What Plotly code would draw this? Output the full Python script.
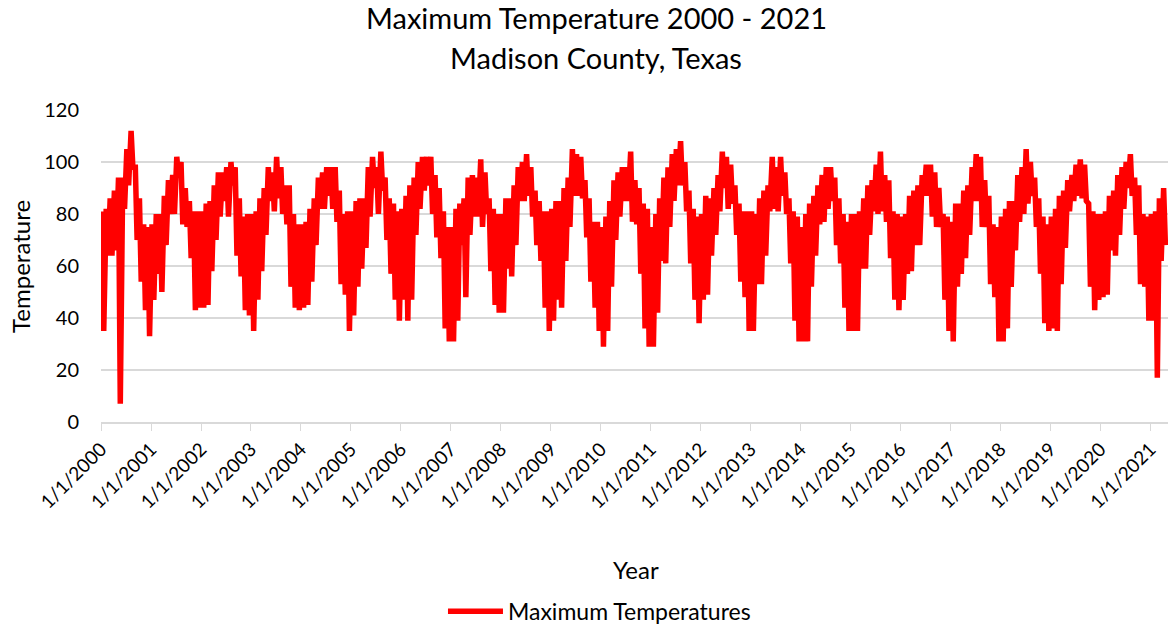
import plotly.graph_objects as go

# Monthly highest / lowest daily maximum temperature (Jan 2000 .. Apr 2021)
monthly_high = [
    # 2000
    81, 82, 86, 89, 94, 94, 105, 112, 98, 86, 76, 75,
    # 2001
    76, 80, 80, 87, 93, 95, 102, 100, 90, 85, 81, 81,
    # 2002
    81, 84, 85, 91, 96, 96, 98, 100, 98, 86, 79, 80,
    # 2003
    80, 81, 86, 90, 98, 96, 102, 98, 91, 91, 80, 76,
    # 2004
    76, 77, 82, 86, 94, 96, 98, 98, 98, 89, 80, 81,
    # 2005
    81, 85, 86, 86, 98, 102, 98, 104, 94, 86, 84, 81,
    # 2006
    82, 87, 91, 94, 100, 102, 102, 102, 95, 90, 81, 75,
    # 2007
    75, 82, 84, 86, 94, 95, 94, 101, 96, 86, 82, 80,
    # 2008
    80, 86, 86, 91, 98, 100, 103, 98, 89, 85, 81, 81,
    # 2009
    82, 85, 85, 90, 94, 105, 103, 102, 93, 86, 77, 77,
    # 2010
    75, 79, 85, 93, 96, 98, 98, 104, 93, 90, 84, 82,
    # 2011
    75, 80, 86, 94, 98, 103, 105, 108, 100, 89, 82, 79,
    # 2012
    80, 87, 86, 90, 95, 104, 102, 99, 91, 84, 81, 81,
    # 2013
    81, 80, 86, 89, 91, 102, 98, 102, 96, 86, 81, 79,
    # 2014
    75, 80, 84, 87, 91, 95, 98, 98, 94, 86, 80, 77,
    # 2015
    80, 80, 81, 86, 91, 93, 99, 104, 95, 93, 81, 80,
    # 2016
    79, 80, 87, 89, 91, 95, 99, 99, 96, 90, 80, 79,
    # 2017
    77, 84, 84, 89, 91, 98, 103, 102, 93, 87, 76, 75,
    # 2018
    79, 82, 85, 85, 95, 98, 105, 100, 94, 86, 79, 76,
    # 2019
    79, 82, 87, 89, 93, 95, 99, 101, 99, 84, 81, 80,
    # 2020
    80, 81, 87, 89, 95, 98, 100, 103, 94, 91, 80, 79,
    # 2021
    80, 81, 86, 90,
]
monthly_low = [
    # 2000
    35, 64, 64, 66, 7, 82, 91, 98, 70, 54, 43, 33,
    # 2001
    47, 57, 50, 68, 80, 80, 94, 76, 75, 63, 43, 44,
    # 2002
    44, 45, 58, 70, 79, 85, 79, 91, 64, 56, 43, 41,
    # 2003
    35, 47, 58, 72, 85, 81, 86, 80, 76, 52, 44, 43,
    # 2004
    44, 45, 54, 68, 82, 82, 87, 82, 77, 53, 49, 35,
    # 2005
    41, 52, 59, 67, 79, 90, 80, 89, 70, 57, 47, 39,
    # 2006
    47, 39, 47, 72, 82, 89, 91, 80, 71, 63, 36, 31,
    # 2007
    31, 39, 68, 48, 72, 79, 79, 75, 80, 58, 45, 42,
    # 2008
    42, 59, 56, 68, 85, 85, 87, 79, 68, 62, 44, 35,
    # 2009
    39, 47, 44, 62, 75, 87, 87, 86, 71, 54, 44, 35,
    # 2010
    29, 35, 52, 70, 79, 85, 85, 77, 76, 57, 36, 29,
    # 2011
    29, 42, 62, 61, 75, 85, 91, 91, 81, 61, 47, 38,
    # 2012
    47, 49, 64, 72, 81, 90, 82, 84, 72, 54, 48, 35,
    # 2013
    35, 53, 53, 64, 81, 82, 81, 87, 80, 61, 39, 31,
    # 2014
    31, 31, 52, 64, 76, 77, 82, 85, 68, 61, 44, 35,
    # 2015
    35, 35, 59, 59, 72, 81, 80, 81, 77, 63, 47, 43,
    # 2016
    47, 57, 58, 68, 68, 87, 87, 79, 75, 75, 47, 35,
    # 2017
    31, 52, 57, 63, 72, 85, 85, 75, 75, 53, 48, 31,
    # 2018
    31, 36, 52, 66, 77, 80, 84, 87, 75, 57, 38, 35,
    # 2019
    36, 35, 53, 67, 81, 85, 87, 86, 85, 52, 43, 47,
    # 2020
    48, 49, 66, 64, 72, 82, 90, 87, 72, 53, 52, 39,
    # 2021
    39, 17, 62, 68,
]
tick_years = list(range(2000, 2022))
tick_labels = [f"1/1/{y}" for y in tick_years]

# Build the date series: each month contributes its high and its low reading
dates, temps = [], []
for i, (hi, lo) in enumerate(zip(monthly_high, monthly_low)):
    y = 2000 + i // 12
    m = i % 12 + 1
    dates.append(f"{y}-{m:02d}-08")
    temps.append(hi)
    dates.append(f"{y}-{m:02d}-21")
    temps.append(lo)

FONT = "Lato, 'Open Sans', sans-serif"

fig = go.Figure()
fig.add_trace(go.Scatter(
    x=dates, y=temps, mode="lines", name="Maximum Temperatures",
    line=dict(color="#ff0000", width=5.5),
))

fig.update_layout(
    width=1170, height=640,
    margin=dict(l=101, r=2, t=110, b=218),
    paper_bgcolor="white", plot_bgcolor="white",
    font=dict(family=FONT, color="#000000", size=18),
    showlegend=True,
    legend=dict(orientation="h", x=0.3205, xanchor="left", y=-0.538, yanchor="top",
                itemwidth=55, font=dict(size=23, family=FONT)),
    xaxis=dict(
        type="date",
        range=["2000-01-01", "2021-05-10"],
        tickvals=[f"{y}-01-01" for y in tick_years],
        ticktext=tick_labels,
        tickangle=-45,
        showgrid=False,
        showline=True, linecolor="#d9d9d9", linewidth=1.5,
        ticks="outside", tickcolor="#d9d9d9", ticklen=7,
        tickfont=dict(size=19),
        zeroline=False, automargin=False,
    ),
    yaxis=dict(
        range=[0, 120], tickvals=[0, 20, 40, 60, 80, 100, 120],
        showgrid=True, gridcolor="#d9d9d9", gridwidth=1.5,
        zeroline=False, showline=False,
        tickfont=dict(size=20), ticks="", ticklabelstandoff=21,
        automargin=False,
    ),
    annotations=[
        dict(text="Maximum Temperature 2000 - 2021", xref="paper", yref="paper",
             x=0.464, y=1.295, showarrow=False,
             font=dict(size=29, family=FONT), xanchor="center", yanchor="middle"),
        dict(text="Madison County, Texas", xref="paper", yref="paper",
             x=0.464, y=1.167, showarrow=False,
             font=dict(size=29, family=FONT), xanchor="center", yanchor="middle"),
        dict(text="Temperature", xref="paper", yref="paper",
             x=-0.076, y=0.5, textangle=-90, showarrow=False,
             font=dict(size=24, family=FONT), xanchor="center", yanchor="middle"),
        dict(text="Year", xref="paper", yref="paper",
             x=0.501, y=-0.474, showarrow=False,
             font=dict(size=24, family=FONT), xanchor="center", yanchor="middle"),
    ],
)

fig.write_html("out.html", config={"displayModeBar": False},
               post_script="document.body.style.margin='0';")
